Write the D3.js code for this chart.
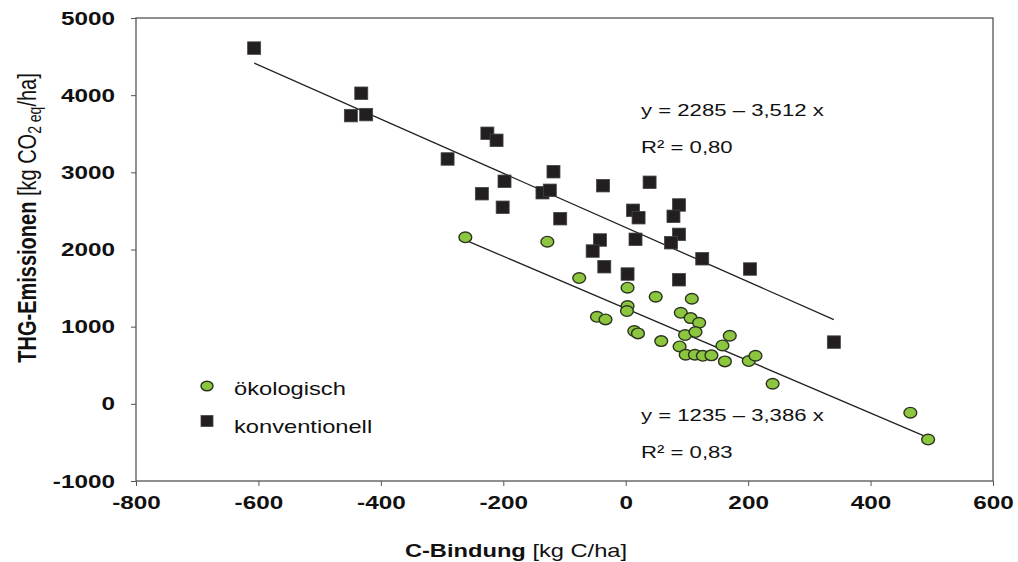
<!DOCTYPE html>
<html>
<head>
<meta charset="utf-8">
<script src="https://cdn.jsdelivr.net/npm/d3@7"></script>
<style>
  body { margin: 0; background: #fff; }
  svg { display: block; font-family: "Liberation Sans", Arial, sans-serif; }
</style>
</head>
<body>
<svg id="chart" width="1018" height="562"></svg>
<script>
// ökologisch (green circles)
const okoX = [-262, -128, -76, 3, 49, 108, 3, 2, -47, -33, 90, 106, 120, 14, 20, 58, 97, 114, 170, 158, 88, 98, 113, 126, 140, 162, 201, 212, 240, 465, 494];
const okoY = [2158, 2101, 1630, 1505, 1388, 1362, 1267, 1202, 1128, 1094, 1180, 1111, 1051, 943, 913, 813, 891, 930, 882, 757, 744, 636, 636, 622, 628, 550, 554, 623, 260, -115, -463];

// konventionell (black squares)
const konvX = [-607, -432, -449, -424, -226, -211, -291, -118, -198, -136, -124, -235, -201, -107, -37, -42, -54, -35, 39, 12, 21, 87, 78, 16, 87, 74, 3, 87, 125, 203, 340];
const konvY = [4610, 4025, 3735, 3748, 3506, 3415, 3173, 3008, 2884, 2736, 2767, 2723, 2547, 2399, 2827, 2123, 1980, 1777, 2871, 2508, 2412, 2577, 2430, 2132, 2196, 2088, 1682, 1608, 1880, 1747, 800];

// regression lines as printed in the chart
const seriesNames = ["ökologisch", "konventionell"];
const intercepts = [1235, 2285];
const slopes = [-3.386, -3.512];
const eqLabels = ["y = 1235 – 3,386 x", "y = 2285 – 3,512 x"];
const r2Labels = ["R² = 0,83", "R² = 0,80"];

const xTicks = [-800, -600, -400, -200, 0, 200, 400, 600];
const yTicks = [-1000, 0, 1000, 2000, 3000, 4000, 5000];

const width = 1018;
const height = 562;
const margin = { top: 18, right: 25, bottom: 81, left: 136 };
const sx = 1.28; // the scan is stretched sideways, so is the text

const svg = d3.select("#chart");

const x = d3.scaleLinear().domain([-800, 600]).range([margin.left, width - margin.right]);
const y = d3.scaleLinear().domain([-1000, 5000]).range([height - margin.bottom, margin.top]);

const axisColor = "#555";
const fmt = (d) => String(d);

// y axis
const gy = svg.append("g")
  .attr("transform", `translate(${margin.left},0)`)
  .call(d3.axisLeft(y).tickValues(yTicks).tickFormat(fmt).tickSize(5).tickSizeOuter(0));
gy.select(".domain").remove();
gy.selectAll("line").attr("stroke", axisColor);
gy.selectAll("text")
  .attr("x", -21 / sx)
  .attr("transform", `scale(${sx},1)`)
  .attr("font-size", 19)
  .attr("font-weight", "bold")
  .attr("fill", "#111")
  .attr("font-family", null);

// x axis
const gx = svg.append("g")
  .attr("transform", `translate(0,${height - margin.bottom})`)
  .call(d3.axisBottom(x).tickValues(xTicks).tickFormat(fmt).tickSize(5).tickSizeOuter(0));
gx.select(".domain").remove();
gx.selectAll("line").attr("stroke", axisColor);
gx.selectAll("text")
  .attr("y", 15)
  .attr("transform", `scale(${sx},1)`)
  .attr("font-size", 19)
  .attr("font-weight", "bold")
  .attr("fill", "#111")
  .attr("font-family", null);

// plot frame
svg.append("rect")
  .attr("x", margin.left)
  .attr("y", margin.top)
  .attr("width", width - margin.right - margin.left)
  .attr("height", height - margin.bottom - margin.top)
  .attr("fill", "none")
  .attr("stroke", axisColor)
  .attr("stroke-width", 1.3);

// regression lines
const allX = [okoX, konvX];
allX.forEach((xs, i) => {
  const [x0, x1] = d3.extent(xs);
  svg.append("line")
    .attr("x1", x(x0))
    .attr("y1", y(intercepts[i] + slopes[i] * x0))
    .attr("x2", x(x1))
    .attr("y2", y(intercepts[i] + slopes[i] * x1))
    .attr("stroke", "#222")
    .attr("stroke-width", 1.3);
});

const green = "#8cc63f";
const dark = "#231f20";

// squares
const sq = 13;
svg.append("g")
  .selectAll("rect")
  .data(d3.range(konvX.length))
  .join("rect")
  .attr("x", (i) => x(konvX[i]) - sq / 2)
  .attr("y", (i) => y(konvY[i]) - 12.5 / 2)
  .attr("width", sq)
  .attr("height", 12.5)
  .attr("fill", dark)
  .attr("stroke", "#444")
  .attr("stroke-width", 0.8);

// circles
svg.append("g")
  .selectAll("ellipse")
  .data(d3.range(okoX.length))
  .join("ellipse")
  .attr("cx", (i) => x(okoX[i]))
  .attr("cy", (i) => y(okoY[i]))
  .attr("rx", 6.4)
  .attr("ry", 5.3)
  .attr("fill", green)
  .attr("stroke", "#2b3320")
  .attr("stroke-width", 1.4);

function stretchedText(px, py, txt, size, weight) {
  return svg.append("text")
    .attr("transform", `translate(${px},${py}) scale(${sx},1)`)
    .attr("font-size", size)
    .attr("font-weight", weight || "normal")
    .attr("fill", "#111")
    .text(txt);
}

// equations
const eqX = x(25);
const eqY = [[421, 458], [116, 153]];
eqLabels.forEach((t, i) => {
  stretchedText(eqX, eqY[i][0], t, 17.3);
  stretchedText(eqX, eqY[i][1], r2Labels[i], 17.3);
});

// legend
const lgX = 207;
svg.append("ellipse")
  .attr("cx", lgX).attr("cy", 386)
  .attr("rx", 6).attr("ry", 4.8)
  .attr("fill", green).attr("stroke", "#2b3320").attr("stroke-width", 1.4);
svg.append("rect")
  .attr("x", lgX - 6).attr("y", 421 - 5.5)
  .attr("width", 12).attr("height", 11)
  .attr("fill", dark).attr("stroke", "#444").attr("stroke-width", 0.8);
stretchedText(234, 395, seriesNames[0], 18.5);
stretchedText(234, 433, seriesNames[1], 18.5);

// x title
const xt = svg.append("text")
  .attr("transform", `translate(516,557) scale(${sx},1)`)
  .attr("text-anchor", "middle")
  .attr("font-size", 18.5)
  .attr("fill", "#111");
xt.append("tspan").attr("font-weight", "bold").text("C-Bindung");
xt.append("tspan").text(" [kg C/ha]");

// y title
const yt = svg.append("text")
  .attr("transform", `translate(36,218) rotate(-90) scale(1,${sx})`)
  .attr("text-anchor", "middle")
  .attr("font-size", 20)
  .attr("fill", "#111");
yt.append("tspan").attr("font-weight", "bold").text("THG-Emissionen");
yt.append("tspan").text(" [kg CO");
yt.append("tspan").attr("font-size", 14).attr("dy", 4).text("2 eq");
yt.append("tspan").attr("dy", -4).text("/ha]");
</script>
</body>
</html>
